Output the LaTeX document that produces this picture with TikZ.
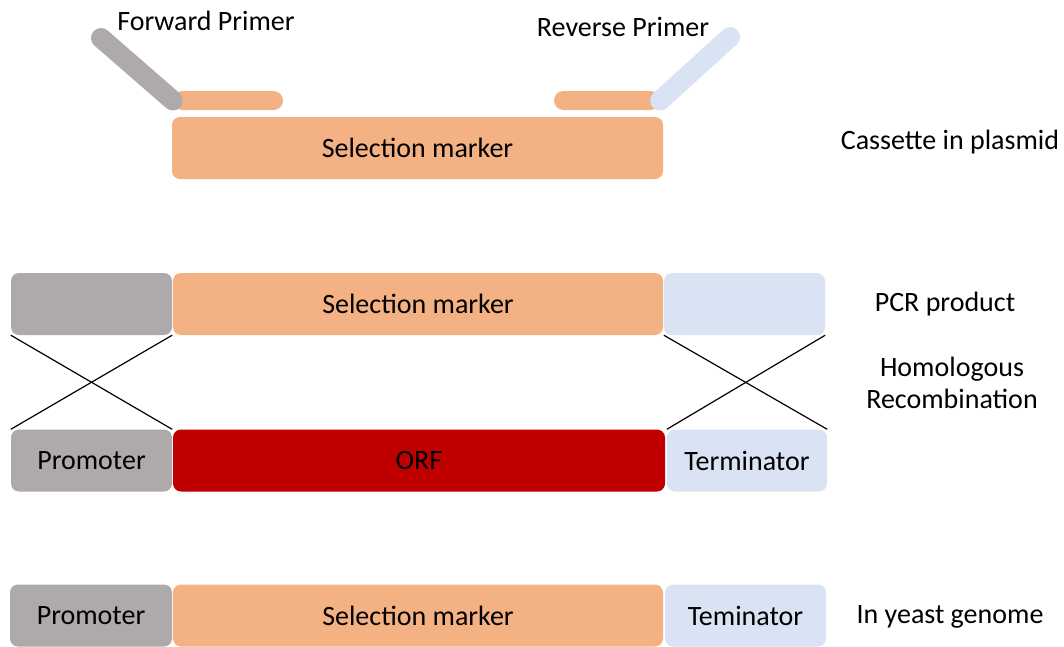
\documentclass[tikz,border=0pt]{standalone}
\usepackage{fontspec}
\setmainfont{Carlito}
\definecolor{markercol}{HTML}{F4B183}
\definecolor{promcol}{HTML}{AEAAAA}
\definecolor{termcol}{HTML}{DAE3F3}
\definecolor{orfcol}{HTML}{C00000}
\tikzset{
  seg/.style={rounded corners=8pt, inner sep=0pt, minimum height=62pt, font=\fontsize{28}{32}\selectfont},
  tag/.style={font=\fontsize{28}{32}\selectfont, align=center, inner sep=0pt},
  tail/.style={fill=markercol, rounded corners=9.5pt, minimum width=110pt, minimum height=19pt, inner sep=0pt},
  crossline/.style={line width=1.2pt},
}
\begin{document}
\begin{tikzpicture}[x=1pt,y=-1pt]
  \useasboundingbox (0,0) rectangle (1064,646);

  % cassette in plasmid
  \node[seg, fill=markercol, minimum width=491pt] (cas) at (417.5,148){Selection marker};
  \node[tail] (ftail) at (228,100.5){};
  \node[tail, minimum width=106pt] (rtail) at (607,100.5){};
  \coordinate (ftop) at (101,38);
  \coordinate (rtop) at (730,37);
  \draw[line width=20pt, line cap=round, promcol] (ftop) -- (ftail.west);
  \draw[line width=20pt, line cap=round, termcol] (rtop) -- (rtail.east);
  \node[tag] (fwd) at (206,21){Forward Primer};
  \node[tag] (rev) at (623,27){Reverse Primer};
  \node[tag] (lcas) at (950,142){Cassette in plasmid};

  % PCR product
  \node[seg, fill=promcol, minimum width=161pt] (pcrp) at (91.5,304){};
  \node[seg, fill=markercol, minimum width=490pt] (pcrm) at (418,304){Selection marker};
  \node[seg, fill=termcol, minimum width=161pt] (pcrt) at (744.5,304){};
  \node[tag] (lpcr) at (945,304){PCR product};

  % genomic locus
  \node[seg, fill=promcol, minimum width=161pt] (orip) at (91.5,460.5){Promoter};
  \node[seg, fill=orfcol, minimum width=492pt] (orf) at (419,460.5){ORF};
  \node[seg, fill=termcol, minimum width=160pt] (orit) at (747,460.5){Terminator};
  \node[tag] (lhr) at (952,383){Homologous\\Recombination};

  \draw[crossline] (pcrp.south west) -- (orip.north east);
  \draw[crossline] (pcrp.south east) -- (orip.north west);
  \draw[crossline] (pcrt.south west) -- (orit.north east);
  \draw[crossline] (pcrt.south east) -- (orit.north west);

  % result
  \node[seg, fill=promcol, minimum width=162pt] (newp) at (91,615.5){Promoter};
  \node[seg, fill=markercol, minimum width=490pt] (newm) at (418,615.5){Selection marker};
  \node[seg, fill=termcol, minimum width=161pt] (newt) at (745.5,615.5){Teminator};
  \node[tag] (lnew) at (950,617){In yeast genome};
\end{tikzpicture}
\end{document}
